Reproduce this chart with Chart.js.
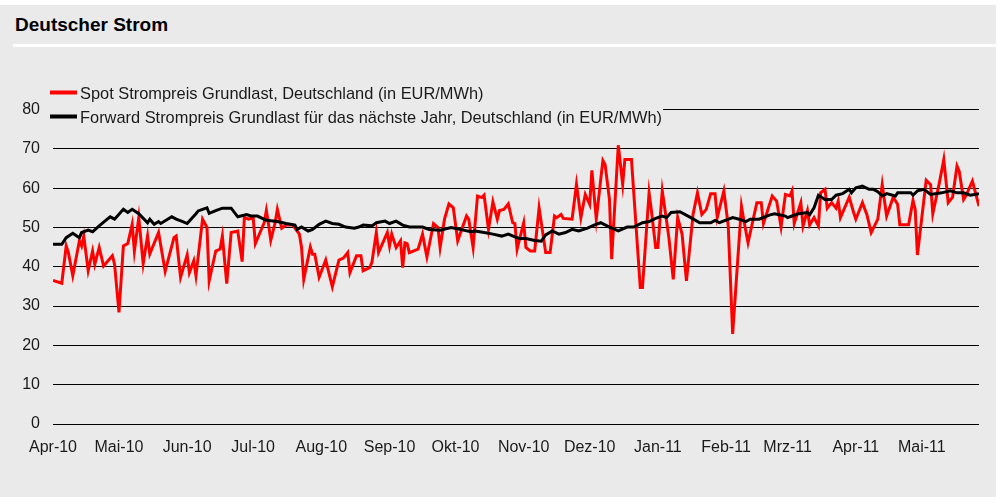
<!DOCTYPE html>
<html><head><meta charset="utf-8">
<script src="https://cdn.jsdelivr.net/npm/chart.js@4.4.1/dist/chart.umd.min.js"></script>
<style>
html,body{margin:0;padding:0;background:#fff;width:1004px;height:504px;overflow:hidden;}
#bg{position:absolute;left:0;top:5px;width:996px;height:492px;background:#eaeaea;}
#title{position:absolute;left:15px;top:15px;font:bold 19px "Liberation Sans",Arial,sans-serif;line-height:19px;color:#000;white-space:nowrap;}
#rule{position:absolute;left:13px;top:44px;width:983px;height:3px;background:#fff;}
#holder{position:absolute;left:0;top:0;width:1004px;height:504px;}
</style></head>
<body>
<div id="bg"></div>
<div id="title">Deutscher Strom</div>
<div id="rule"></div>
<div id="holder"><canvas id="c" width="1004" height="504"></canvas></div>
<script>
// ---- data ----
const startYear = 2010, startMonth = 3; // April 2010
const monthLabels = ['Apr-10','Mai-10','Jun-10','Jul-10','Aug-10','Sep-10','Okt-10','Nov-10','Dez-10','Jan-11','Feb-11','Mrz-11','Apr-11','Mai-11'];
const yTickValues = [0,10,20,30,40,50,60,70,80];
const spotLabel = 'Spot Strompreis Grundlast, Deutschland (in EUR/MWh)';
const fwdLabel = 'Forward Strompreis Grundlast für das nächste Jahr, Deutschland (in EUR/MWh)';
// days since 1 Apr 2010
const spotDays = [0,4,6,7,9,12,13,14,16,18,19,21,23,27,28,30,32,34,36,37,39,41,43,44,48,51,55,56,58,61,62,64,65,68,70,71,74,76,77,79,81,84,86,87,89,91,92,96,97,98,99,101,102,104,106,109,112,113,114,117,118,119,121,124,127,130,132,134,135,138,140,141,144,145,147,148,152,153,154,156,158,159,160,161,162,166,168,170,173,175,176,178,180,182,184,188,189,191,193,195,196,198,200,202,203,205,207,209,210,211,214,215,217,219,221,224,226,228,229,231,232,236,238,240,242,244,245,247,250,251,253,254,257,259,260,263,267,268,271,272,274,275,277,279,280,282,284,286,288,291,293,295,297,299,301,302,305,307,309,313,314,316,320,322,323,327,329,331,333,335,336,337,340,341,343,344,346,348,349,351,352,354,356,357,358,362,364,365,368,370,372,375,377,379,382,384,385,389,391,392,393,397,399,400,403,405,407,409,411,412,414,415,418,421];
const spotValues = [36.5,35.8,45.3,43.6,37.7,46.6,45.3,47.8,39,44,40.6,44.9,40.2,42.8,40.6,28.4,45.3,45.9,50.8,44,52.5,40.8,47.8,43.2,48.7,38.8,47.4,47.8,37.3,43,38.5,41.5,37.7,52.1,50,36.4,44,44.5,47.8,35.7,48.7,49.1,41.3,52.5,52.1,52.5,45.9,51.2,54.3,50.8,46.7,51.2,54.6,49.8,50.6,50.6,48.3,44.9,36.8,45,43.2,43.2,37.3,41.7,34.9,41.7,42.2,43.6,38.5,42.8,42.8,39,39.8,41.1,48.7,43.6,48.7,45.3,48.3,44.9,46.6,39.8,46.1,45.9,43.6,44.5,48.3,42.5,51,50,44.9,52.1,56,55,46.6,52.9,52.1,44.9,58,57.6,58.2,49.5,56.5,52.1,54.3,54.6,56,51.2,51,44.5,51.2,44.9,44,44,55,43.6,43.6,52.9,52.5,53.3,52.3,52.1,61,52.5,58.4,55.9,64.5,52.1,67,66,57.1,41.9,70.9,61,67.3,67.3,34.7,34.7,58.8,54.6,44.9,44.9,59.3,51.5,47.4,36.8,52.5,48.3,36.4,53.3,58.8,53.3,54.6,58.6,58.6,52.5,59.3,50.4,22.9,55.4,52.1,46.1,56.3,56.3,51,58,56.7,50.1,58.4,58,59.3,51,56.3,50.4,54.3,50.6,52.5,50.4,58.8,59.7,54.9,56.3,54.9,56.7,52.5,57.7,53.8,52.1,56.3,53.3,48.7,52.1,60.9,52.9,57.7,55.9,50.7,50.7,56.9,54.6,43,62,60.9,53.5,61.4,67.3,56.3,57.7,65.6,64.3,57.1,58,61.8,55.4];
const fwdDays = [0,4,6,9,12,13,16,18,21,24,26,28,32,34,36,39,43,44,46,48,49,54,56,59,61,65,66,68,70,71,74,77,81,84,88,90,93,97,102,106,110,111,113,116,118,121,124,127,130,133,137,139,141,145,147,151,153,156,159,162,168,171,176,181,185,190,192,196,200,204,207,210,212,215,219,222,224,227,230,233,236,239,243,246,249,253,257,261,264,268,271,274,277,279,281,285,290,294,299,301,303,309,312,315,317,321,326,328,333,334,336,339,343,344,346,348,351,354,356,359,362,363,365,368,371,373,375,377,379,383,384,390,391,393,396,399,404,408,411,414,417,421];
const fwdValues = [45.7,45.7,47.4,48.5,47.4,48.7,49.3,48.9,50.4,51.8,52.7,52.1,54.6,53.8,54.6,53.5,51.2,52.1,50.8,51.5,51,52.7,52.1,51.5,51,53.5,54.2,54.6,55,53.6,54.3,54.9,54.9,52.7,53.3,52.9,52.9,51.8,51.5,51,50.6,49.5,50.1,49.1,49.5,50.8,51.6,51,50.8,50.1,49.8,50.1,50.6,50.4,51.2,51.6,51,51.6,50.6,50.1,50.1,49.5,49.3,50,49.5,48.9,49.1,48.7,48.3,47.8,48.3,47.6,47.2,47.2,46.7,46.5,48.1,49.1,48.3,48.7,49.5,49.1,49.8,50.6,51.2,50.1,49.1,50.1,50.1,51.2,51.5,52.3,52.9,52.5,53.8,54,52.5,51.2,51.2,51.8,51.2,52.5,52.1,51.5,52.1,52.1,53.2,53.5,52.9,52.5,52.9,53.5,53.8,53.2,55,58.2,57.1,57.1,58.2,58.6,59.7,58.8,60.1,60.5,59.7,59.7,59.1,58,58.6,58,58.8,58.8,58.2,59.3,59.7,58.4,58.8,59.3,58.8,58.8,58.2,58.6];

// month start offsets (days since start) derived from calendar
const t0 = Date.UTC(startYear, startMonth, 1);
const monthStarts = monthLabels.map((_, i) => Math.round((Date.UTC(startYear, startMonth + i, 1) - t0) / 864e5));
const lastDay = Math.max(spotDays[spotDays.length-1], fwdDays[fwdDays.length-1]);

const BG = '#eaeaea';
const TXT = '#1a1a1a';
const FONT = '"Liberation Sans", Arial, sans-serif';

const legendPlugin = {
  id: 'customLegend',
  afterDraw(chart) {
    const c = chart.ctx;
    c.save();
    c.font = '16.4px ' + FONT;
    const rows = [92.5, 116.5];
    let maxW = 0;
    chart.data.datasets.forEach(ds => { maxW = Math.max(maxW, c.measureText(ds.label).width); });
    c.fillStyle = BG;
    c.fillRect(44, 80, 80 + maxW + 1 - 44, 46);
    chart.data.datasets.forEach((ds, i) => {
      const y = rows[i];
      c.strokeStyle = ds.borderColor;
      c.lineWidth = 4;
      c.beginPath(); c.moveTo(50, y); c.lineTo(77, y); c.stroke();
      c.fillStyle = TXT;
      c.textBaseline = 'alphabetic';
      c.textAlign = 'left';
      c.fillText(ds.label, 80, y + 6.5);
    });
    c.restore();
  }
};

new Chart(document.getElementById('c'), {
  type: 'line',
  data: {
    datasets: [
      { label: spotLabel, data: spotDays.map((d, i) => ({x: d, y: spotValues[i]})),
        borderColor: '#ff0000', borderWidth: 3, pointRadius: 0, tension: 0, fill: false, order: 1 },
      { label: fwdLabel, data: fwdDays.map((d, i) => ({x: d, y: fwdValues[i]})),
        borderColor: '#000000', borderWidth: 3, pointRadius: 0, tension: 0, fill: false, order: 0 }
    ]
  },
  options: {
    responsive: false,
    animation: false,
    layout: { padding: { left: 0, top: 109.5, right: 25, bottom: 0 } },
    plugins: { legend: { display: false }, tooltip: { enabled: false }, title: { display: false } },
    scales: {
      x: {
        type: 'linear', min: 0, max: lastDay,
        grid: { display: false, drawTicks: false },
        border: { display: false },
        afterBuildTicks: s => { s.ticks = monthStarts.map(v => ({ value: v })); },
        afterFit: s => { s.height = 80; },
        ticks: {
          autoSkip: false, maxRotation: 0, minRotation: 0, padding: 14, color: TXT,
          font: { size: 16, family: FONT },
          callback: (v) => { const k = monthStarts.indexOf(v); return k >= 0 ? monthLabels[k] : ''; }
        }
      },
      y: {
        min: yTickValues[0], max: yTickValues[yTickValues.length - 1],
        afterBuildTicks: s => { s.ticks = yTickValues.map(v => ({ value: v })); },
        afterFit: s => { s.width = 53; },
        grid: { color: '#000', lineWidth: 1, drawTicks: false },
        border: { display: false },
        ticks: { padding: 13, color: TXT, font: { size: 16, family: FONT } }
      }
    }
  },
  plugins: [legendPlugin]
});
</script>
</body></html>
